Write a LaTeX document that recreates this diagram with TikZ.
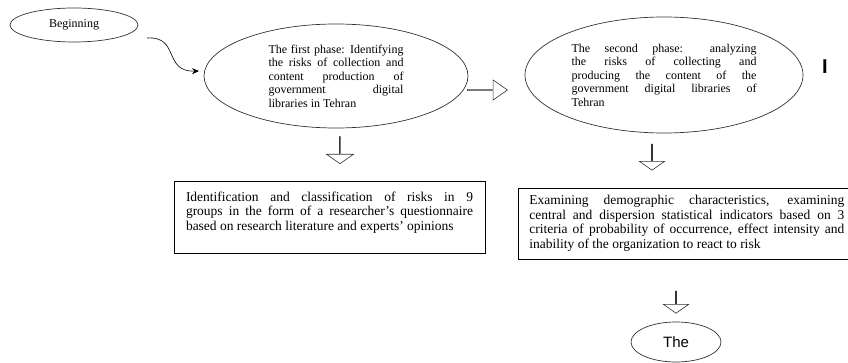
\documentclass[tikz,border=0pt]{standalone}
\usepackage{fontspec}
\setmainfont{Liberation Serif}
\setsansfont{Liberation Sans}
\usepackage{tikz}
\usetikzlibrary{positioning, arrows.meta, shapes.geometric, shapes.arrows}

\newcommand{\spreadline}[1]{\hbox to \hsize{\spaceskip=0pt\xspaceskip=0pt\relax #1}}

\begin{document}
\begin{tikzpicture}
              [x=1pt, y=-1pt,
               terminal/.style={ellipse, draw=black!80, line width=.7pt, font=\fontsize{12}{14}\selectfont},
               phase/.style={ellipse, draw=black!80, line width=.7pt, text width=#1, align=justify, font=\fontsize{12}{13.5}\selectfont},
               riskbox/.style={rectangle, draw, line width=.8pt, text width=#1, align=justify, font=\fontsize{13.5}{14.5}\selectfont},
               hollow/.style={single arrow, draw=black!80, line width=.6pt, inner sep=0pt, single arrow head extend=#1}]
              \useasboundingbox[fill=white] (0,0) rectangle (848,363);

              % nodes %
              \node[terminal, minimum width=128pt, minimum height=34pt] (begin) at (74,25) {Beginning};
              \node[phase=135pt, minimum width=264pt, minimum height=104pt] (first) at (336,76)
                {\spreadline{The first phase: Identifying}
                 \spreadline{the risks of collection and}
                 \spreadline{content production of}
                 \spreadline{government digital}
                 libraries in Tehran};
              \node[hollow=5pt, single arrow tip angle=70, minimum height=40pt, minimum width=20pt] (toSecond) at (487,90) {};
              \node[phase=185pt, minimum width=278pt, minimum height=116pt] (second) at (664,75)
                {\spreadline{The second phase: analyzing}
                 \spreadline{the risks of collecting and}
                 \spreadline{producing the content of the}
                 \spreadline{government digital libraries of}
                 Tehran};
              \node[inner sep=0pt, font=\sffamily\bfseries\fontsize{20}{20}\selectfont] (bar) at (825,67) {I};

              \node[hollow=7pt, single arrow tip angle=110, shape border rotate=270, minimum height=27pt, minimum width=27pt] (downFirst) at (340,150) {};
              \node[riskbox=287pt, inner xsep=12pt, inner ysep=10pt, text depth=42.5pt] (identify) at (329.5,217.5)
                {\spreadline{Identification and classification of risks in 9}
                 \spreadline{groups in the form of a researcher's questionnaire}
                 based on research literature and experts' opinions};

              \node[hollow=7pt, single arrow tip angle=110, shape border rotate=270, minimum height=26pt, minimum width=25pt] (downSecond) at (652,157) {};
              \node[riskbox=315pt, inner xsep=11pt, minimum height=71pt, anchor=west] (examine) at (518,223.5)
                {\spreadline{Examining demographic characteristics, examining}
                 \spreadline{central and dispersion statistical indicators based on 3}
                 \spreadline{criteria of probability of occurrence, effect intensity and}
                 inability of the organization to react to risk};

              \node[hollow=7pt, single arrow tip angle=110, shape border rotate=270, minimum height=22pt, minimum width=25pt] (downThird) at (676,302) {};
              \node[terminal, minimum width=90pt, minimum height=40pt, font=\sffamily\fontsize{15}{17}\selectfont] (result) at (676,342) {The};

              \coordinate (curveStart) at (147,38);
              \coordinate (curveEnd) at (199,71);

              % edges %
              \draw[-{Stealth[length=7pt, width=6pt]}, line width=.6pt] (curveStart) .. controls (180,36) and (163,72) .. (curveEnd);
            \end{tikzpicture}
\end{document}
